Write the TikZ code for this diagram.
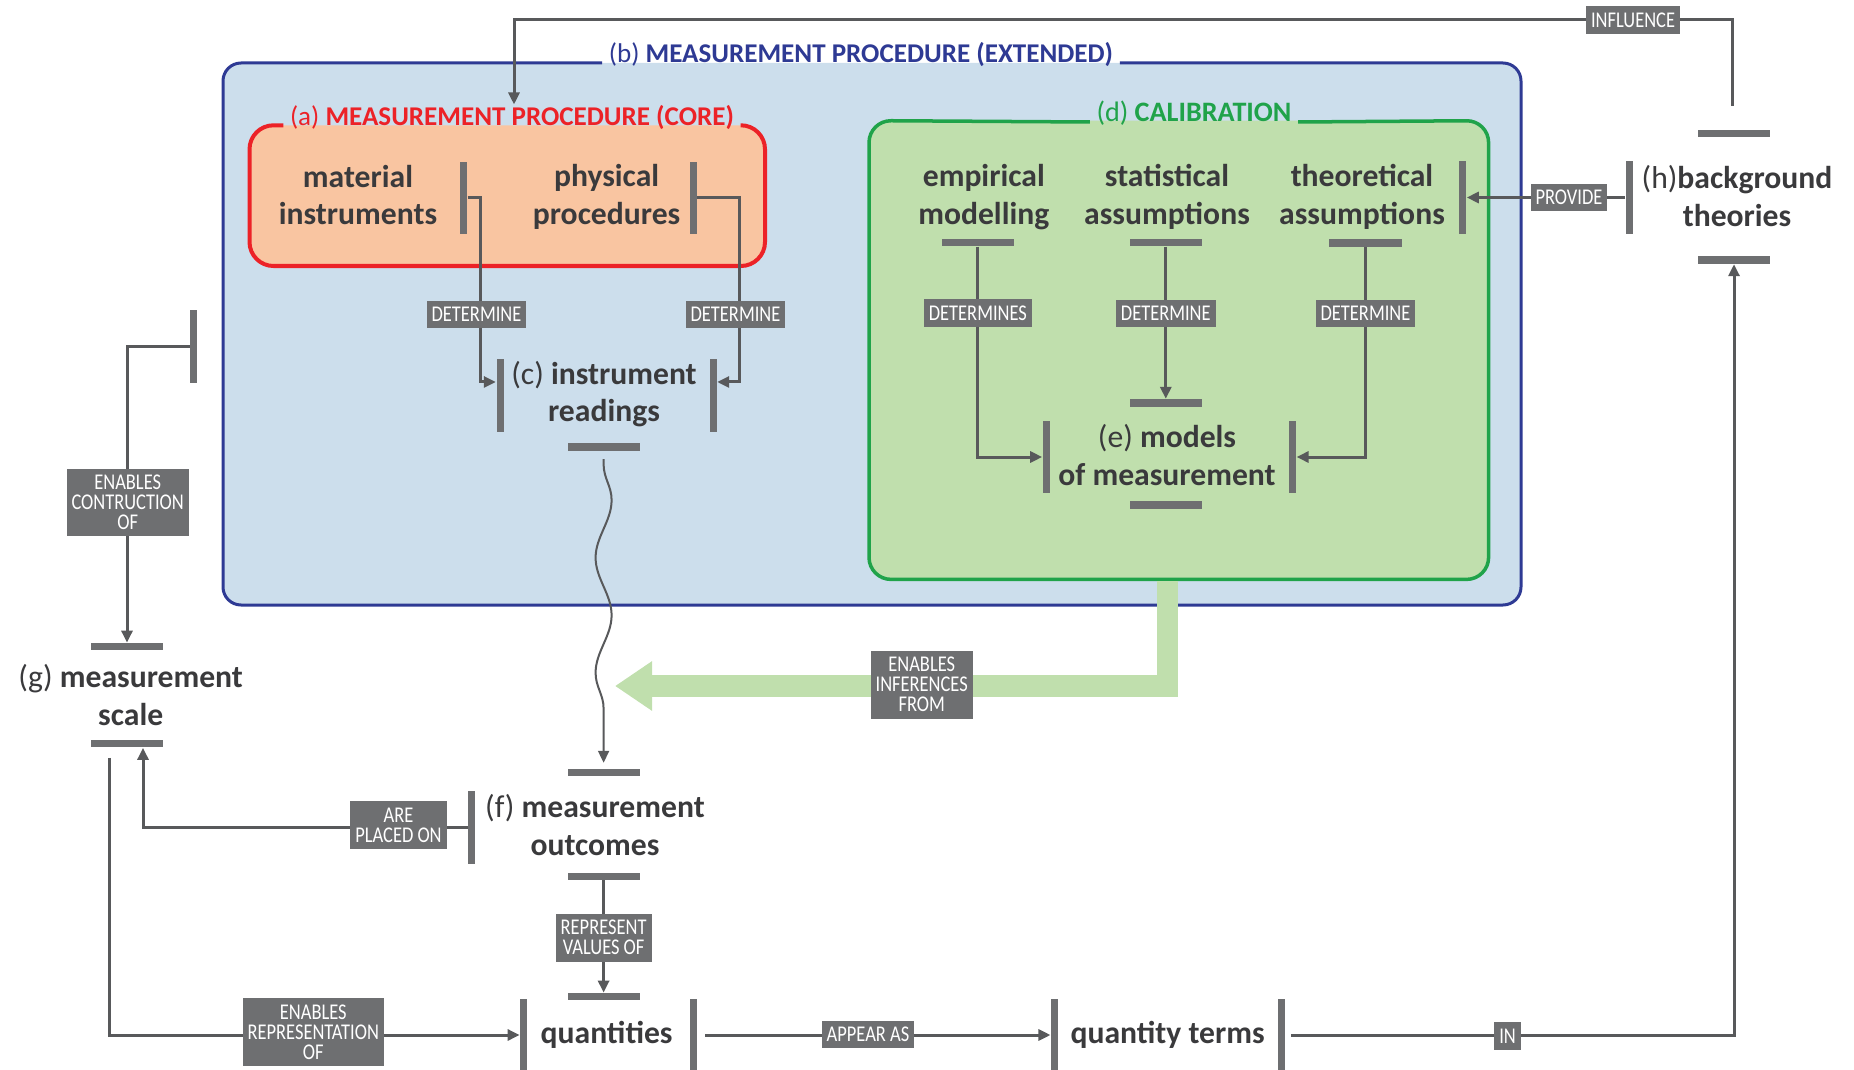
\documentclass[tikz,border=0pt]{standalone}
\usepackage{fontspec}
\setmainfont{Carlito}
\newfontfamily\lblfont[FakeStretch=0.82]{Carlito}
\usetikzlibrary{arrows.meta}
\usetikzlibrary{decorations.pathmorphing}
\definecolor{boxblue}{HTML}{CCDEEC}
\definecolor{lineblue}{HTML}{2E3A94}
\definecolor{boxpeach}{HTML}{F9C5A1}
\definecolor{linered}{HTML}{EC2227}
\definecolor{boxgreen}{HTML}{C0DFAD}
\definecolor{linegreen}{HTML}{20A34A}
\definecolor{bargray}{HTML}{6E6F71}
\definecolor{conngray}{HTML}{58595B}
\definecolor{textgray}{HTML}{3A3A3C}
\tikzset{vbar/.style = {fill=bargray, inner sep=0, minimum width=0.07cm, minimum height=0.72cm}}
\tikzset{hbar/.style = {fill=bargray, inner sep=0, minimum width=0.72cm, minimum height=0.07cm}}
\tikzset{term/.style = {text=textgray, align=center, inner sep=0, font=\bfseries\fontsize{9}{10.7}\selectfont}}
\tikzset{lbl/.style = {fill=bargray, text=white, align=center, inner xsep=0.05cm, inner ysep=0.065cm, font=\lblfont\fontsize{6.4}{5.7}\selectfont}}
\tikzset{conn/.style = {draw=conngray, line width=0.03cm, -{Triangle[length=0.12cm,width=0.11cm]}}}
\tikzset{boxtitle/.style = {anchor=base, inner xsep=0.06cm, inner ysep=0, font=\bfseries\fontsize{7.7}{8}\selectfont}}

\begin{document}
\begin{tikzpicture}[x=0.01cm, y=-0.01cm]
  \useasboundingbox (0,0) rectangle (1854,1070);

  % (b) extended procedure
  \fill[boxblue, rounded corners=0.18cm] (223,63) rectangle (1521,605);
  \node[boxtitle, text=lineblue] (btitle) at (861,63) {{\mdseries(b)} MEASUREMENT PROCEDURE (EXTENDED)};
  \draw[lineblue, line width=0.03cm, rounded corners=0.18cm] (btitle.base east) -- (1521,63) -- (1521,605) -- (223,605) -- (223,63) -- (btitle.base west);

  % (a) core procedure
  \fill[boxpeach, rounded corners=0.24cm] (249.5,125.3) rectangle (765,266);
  \node[boxtitle, text=linered] (atitle) at (512,125.3) {{\mdseries(a)} MEASUREMENT PROCEDURE (CORE)};
  \draw[linered, line width=0.04cm, rounded corners=0.24cm] (atitle.base east) -- (765,125.3) -- (765,266) -- (249.5,266) -- (249.5,125.3) -- (atitle.base west);

  % (d) calibration
  \fill[boxgreen, rounded corners=0.22cm] (869,120.6) rectangle (1488.6,579.4);
  \node[boxtitle, text=linegreen, font=\bfseries\fontsize{8}{8.5}\selectfont] (dtitle) at (1194,122) {{\mdseries(d)} CALIBRATION};
  \draw[linegreen, line width=0.035cm, rounded corners=0.22cm] (dtitle.base east) -- (1488.6,120.6) -- (1488.6,579.4) -- (869,579.4) -- (869,120.6) -- (dtitle.base west);

  % inference arrow
  \coordinate (calibbot) at (1167,581);
  \coordinate (infertip) at (615,686);
  \draw[boxgreen, line width=0.21cm, -{Triangle[length=0.37cm,width=0.47cm]}] (calibbot) |- (infertip);

  % terms
  \node[term] (mat) at (358,195) {material\\instruments};
  \node[term] (phys) at (606.6,197) {physical\\procedures};
  \node[term] (instr) at (604,394) {{\mdseries(c)} instrument\\readings};
  \node[term] (emp) at (983.8,197) {empirical\\modelling};
  \node[term] (stat) at (1167,197) {statistical\\assumptions};
  \node[term] (theo) at (1362,197) {theoretical\\assumptions};
  \node[term] (models) at (1167,455) {{\mdseries(e)} models\\of measurement};
  \node[term] (bg) at (1737,196) {{\mdseries(h)}background\\theories};
  \node[term] (scale) at (130.7,695) {{\mdseries(g)} measurement\\scale};
  \node[term] (outc) at (595,825) {{\mdseries(f)} measurement\\outcomes};
  \node[term] (qty) at (606.6,1034.6) {quantities};
  \node[term] (qterm) at (1167.6,1034.6) {quantity terms};

  % bars
  \node[vbar] (matR) at (463.5,198) {};
  \node[vbar] (physR) at (693,198) {};
  \node[vbar] (cL) at (500,395.5) {};
  \node[vbar] (cR) at (713,395.5) {};
  \node[hbar] (cB) at (603.6,447) {};
  \node[hbar] (empB) at (977.9,242.4) {};
  \node[hbar] (statB) at (1165.8,242.4) {};
  \node[hbar] (theoB) at (1365.5,243) {};
  \node[vbar] (theoR) at (1462.6,197.5) {};
  \node[hbar] (eT) at (1165.8,403) {};
  \node[hbar] (eB) at (1165.8,505) {};
  \node[vbar] (eL) at (1046.4,457) {};
  \node[vbar] (eR) at (1292.4,457) {};
  \node[hbar] (hT) at (1734,133.6) {};
  \node[hbar] (hB) at (1734,260) {};
  \node[vbar] (hL) at (1629.4,197.5) {};
  \node[hbar] (gT) at (127,646.8) {};
  \node[hbar] (gB) at (127,743.7) {};
  \node[vbar] (procbar) at (193.9,346.5) {};
  \node[hbar] (fT) at (603.6,772) {};
  \node[hbar] (fB) at (603.6,876) {};
  \node[vbar] (fL) at (471.8,827.5) {};
  \node[hbar] (qT) at (603.6,996.8) {};
  \node[vbar] (qL) at (523.8,1035) {};
  \node[vbar] (qR) at (693,1035) {};
  \node[vbar] (qtL) at (1054.7,1035) {};
  \node[vbar] (qtR) at (1281.7,1035) {};

  % connectors
  \coordinate (inflstart) at (1732,106);
  \coordinate (infltop) at (514,20);
  \draw[conn] (inflstart) |- (infltop) -- (infltop |- atitle.north);
  \draw[conn] (hL.west) -- (theoR.east);
  \draw[conn] (matR.east) -- ++(13,0) |- ([yshift=0.135cm]cL.west);
  \draw[conn] (physR.east) -- ++(42.5,0) |- ([yshift=0.135cm]cR.east);
  \draw[conn] (empB.south) |- (eL.west);
  \draw[conn] (statB.south) -- (eT.north);
  \draw[conn] (theoB.south) |- (eR.east);
  \draw[conn, line width=0.02cm, decorate, decoration={snake, amplitude=0.08cm, segment length=1.15cm, pre length=0.05cm, post length=0.15cm}] ([yshift=-0.08cm]cB.south) -- ([yshift=0.05cm]fT.north);
  \draw[conn] (procbar.west) -| (gT.north);
  \draw[conn] (fL.west) -| ([xshift=0.16cm]gB.south);
  \draw[conn] (fB.south) -- (qT.north);
  \draw[conn] ([xshift=-0.17cm, yshift=-0.1cm]gB.south) |- (qL.west);
  \draw[conn] ([xshift=0.08cm]qR.east) -- (qtL.west);
  \draw[conn] ([xshift=0.05cm]qtR.east) -| (hB.south);

  % labels
  \node[lbl] (linfl) at (1633,20) {INFLUENCE};
  \node[lbl] (lprov) at (1569,197.5) {PROVIDE};
  \node[lbl] (ldet1) at (476.5,314.5) {DETERMINE};
  \node[lbl] (ldet2) at (735.5,314.5) {DETERMINE};
  \node[lbl] (ldet3) at (977.9,313.3) {DETERMINES};
  \node[lbl] (ldet4) at (1165.8,313.3) {DETERMINE};
  \node[lbl] (ldet5) at (1365.5,313.3) {DETERMINE};
  \node[lbl] (linfer) at (921.7,684.6) {ENABLES\\INFERENCES\\FROM};
  \node[lbl] (lconstr) at (127.7,502.5) {ENABLES\\CONTRUCTION\\OF};
  \node[lbl] (lplaced) at (398.5,825.3) {ARE\\PLACED ON};
  \node[lbl] (lrepr) at (603.6,937.6) {REPRESENT\\VALUES OF};
  \node[lbl] (lenrep) at (313.3,1032) {ENABLES\\REPRESENTATION\\OF};
  \node[lbl] (lappear) at (868,1034.6) {APPEAR AS};
  \node[lbl] (lin) at (1507.6,1036) {IN};
\end{tikzpicture}
\end{document}
